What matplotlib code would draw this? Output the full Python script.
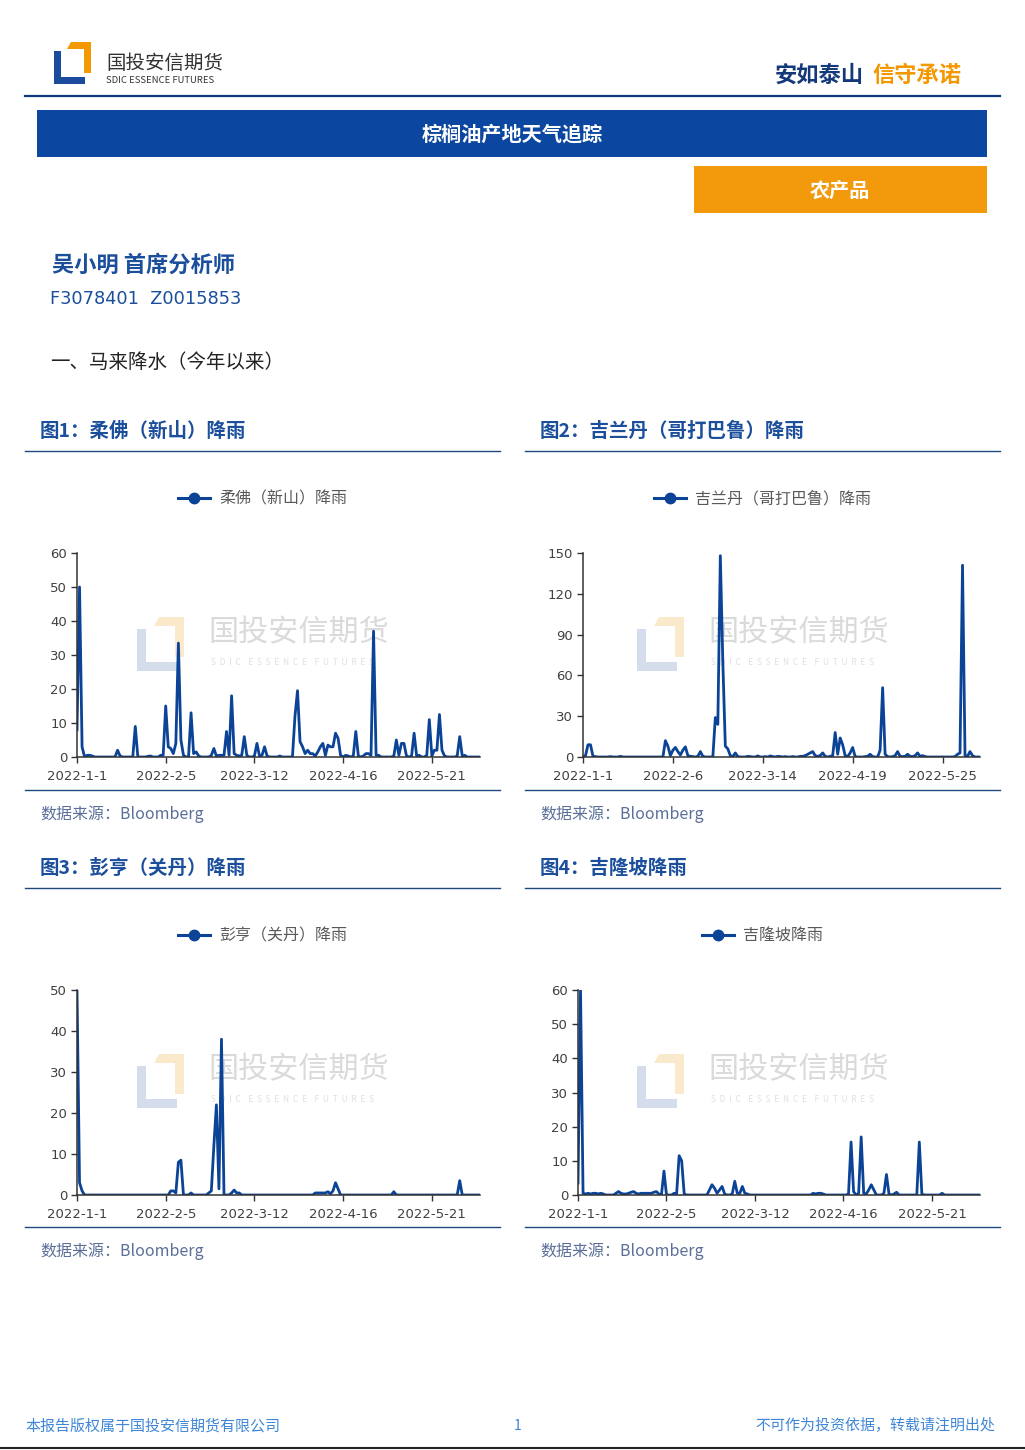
import numpy as np
import pandas as pd
import matplotlib.pyplot as plt
from matplotlib.patches import Polygon, Rectangle
from matplotlib.lines import Line2D

plt.rcParams['font.family'] = ['Noto Sans CJK SC', 'DejaVu Sans']

W, H = 1025, 1450

# ---- data (daily rainfall, mm) ----
start_date = '2022-01-01'
n_days = 160

johor = [8, 50, 3, 0, 0.5, 0.5, 0.3, 0, 0, 0, 0, 0, 0, 0, 0, 0, 2, 0.3, 0, 0,
         0, 0, 0, 9, 0, 0, 0, 0, 0.2, 0.3, 0, 0, 0, 0.5, 0.5, 15, 3, 2.5, 1, 4,
         33.5, 5, 0.5, 0, 0, 13, 1, 1.5, 0.3, 0, 0, 0, 0, 0.5, 2.5, 0.3, 0.5, 0.5, 0.5, 7.5,
         0.5, 18, 1, 0.5, 0.3, 0.5, 6, 0.5, 0, 0, 0.3, 4, 0.3, 0.5, 3, 0.3, 0, 0, 0, 0,
         0.3, 0, 0, 0, 0, 0, 12, 19.5, 4.5, 3, 1, 2, 1, 1, 0.3, 1.5, 3, 4, 0.5, 3.5,
         3, 3, 7, 5.5, 0.5, 0, 0.5, 0.3, 0, 0.3, 7.5, 0.3, 0, 0.3, 1, 1, 0.5, 37, 0.5, 0.5,
         0, 0, 0, 0, 0, 0.3, 5, 0.5, 4, 4, 0.3, 0, 0.3, 7, 0.3, 0.5, 0, 0, 0.5, 11,
         0.3, 2, 2, 12.5, 2, 0.3, 0, 0, 0, 0, 0.3, 6, 0.3, 0.5, 0, 0, 0, 0, 0, 0]

kelantan = [0, 1, 9, 9, 0.5, 0.3, 0, 0, 0, 0, 0, 0.3, 0, 0, 0, 0.5, 0, 0, 0, 0,
            0, 0, 0, 0, 0, 0, 0, 0, 0, 0, 0, 0, 0, 12, 8, 1, 5, 7, 4, 1.5,
            5, 7.5, 1, 0.5, 0.3, 0, 0.5, 4, 0.5, 0, 0, 0, 0, 29, 24, 148, 70, 8, 6, 1,
            0.3, 3, 0.3, 0, 0, 0, 0.5, 0.3, 0, 0, 0.8, 0, 0, 0.3, 0, 0.8, 0.3, 0, 0.5, 0.3,
            0, 0.3, 0, 0, 0.3, 0, 0, 0.5, 0.5, 1, 2, 3, 4, 1, 0.5, 1, 3, 0.5, 0, 0.5,
            1, 18, 2, 14, 9, 1, 0.3, 3, 7, 0.3, 0, 0, 0, 0.3, 0.5, 2, 0.3, 0, 0, 5,
            51, 2, 0.3, 0, 0.3, 1, 4, 0.5, 0.3, 0.5, 2, 0.5, 0.3, 1, 3, 0.5, 1, 0.3, 0, 0,
            0, 0, 0, 0, 0, 0, 0, 0, 0, 0.3, 2, 3, 141, 1, 0.5, 4, 1, 0, 0, 0]

pahang = [50, 3, 1, 0, 0, 0, 0, 0, 0, 0, 0, 0, 0, 0, 0, 0, 0, 0, 0, 0,
          0, 0, 0, 0, 0, 0, 0, 0, 0, 0, 0, 0, 0, 0, 0, 0, 0, 1, 1, 0.5,
          8, 8.5, 0, 0, 0, 0.5, 0, 0, 0, 0, 0, 0, 0.5, 1, 12, 22, 1.5, 38, 0, 0,
          0, 0.5, 1.2, 0.5, 0.5, 0, 0, 0, 0, 0, 0, 0, 0, 0, 0, 0, 0, 0, 0, 0,
          0, 0, 0, 0, 0, 0, 0, 0, 0, 0, 0, 0, 0, 0, 0.5, 0.5, 0.5, 0.5, 0.5, 0.8,
          0.3, 1, 3, 1.5, 0, 0, 0, 0, 0, 0, 0, 0, 0, 0, 0, 0, 0, 0, 0, 0,
          0, 0, 0, 0, 0, 0.8, 0, 0, 0, 0, 0, 0, 0, 0, 0, 0, 0, 0, 0, 0,
          0, 0, 0, 0, 0, 0, 0, 0, 0, 0, 0, 3.5, 0, 0, 0, 0, 0, 0, 0, 0]

kuala_lumpur = [3.5, 60, 0.5, 0.3, 0.5, 0.3, 0.5, 0.5, 0.3, 0.5, 0.3, 0, 0, 0, 0, 0.5, 1, 0.5, 0.3, 0.3,
                0.5, 0.8, 1, 0.5, 0.3, 0.5, 0.5, 0.5, 0.5, 0.5, 0.8, 1, 0.3, 0, 7, 0, 0, 0, 0.5, 0.3,
                11.5, 10, 0.3, 0, 0, 0, 0, 0, 0, 0, 0, 0, 1.5, 3, 2, 0.5, 1.5, 2.5, 0.3, 0,
                0, 0.3, 4, 0.5, 0.5, 2.5, 0.5, 0.3, 0, 0, 0, 0, 0, 0, 0, 0, 0, 0, 0, 0,
                0, 0, 0, 0, 0, 0, 0, 0, 0, 0, 0, 0, 0, 0.5, 0.3, 0.5, 0.5, 0.3, 0, 0,
                0, 0, 0, 0, 0, 0, 0, 0.3, 15.5, 1, 0, 0.5, 17, 0.5, 0.3, 1.5, 3, 1.5, 0, 0,
                0, 0.5, 6, 0.3, 0, 0.3, 0.8, 0, 0, 0, 0, 0, 0, 0, 0, 15.5, 0.3, 0, 0, 0,
                0, 0, 0, 0, 0.5, 0, 0, 0, 0, 0, 0, 0, 0, 0, 0, 0, 0, 0, 0, 0]

ticks_a = ['2022-1-1', '2022-2-5', '2022-3-12', '2022-4-16', '2022-5-21']
ticks_b = ['2022-1-1', '2022-2-6', '2022-3-14', '2022-4-19', '2022-5-25']

yticks_1 = [0, 10, 20, 30, 40, 50, 60]
yticks_2 = [0, 30, 60, 90, 120, 150]
yticks_3 = [0, 10, 20, 30, 40, 50]
yticks_4 = [0, 10, 20, 30, 40, 50, 60]

titles = ['图1：柔佛（新山）降雨', '图2：吉兰丹（哥打巴鲁）降雨',
          '图3：彭亨（关丹）降雨', '图4：吉隆坡降雨']
series_names = ['柔佛（新山）降雨', '吉兰丹（哥打巴鲁）降雨',
                '彭亨（关丹）降雨', '吉隆坡降雨']

LINE = '#0b4397'
ORANGE = '#f39800'
TXTBLUE = '#1b4f9c'

fig = plt.figure(figsize=(W / 100, H / 100), dpi=100)

# page layer in pixel coordinates (behind the charts)
page = fig.add_axes([0, 0, 1, 1], zorder=-1)
page.set_xlim(0, W)
page.set_ylim(H, 0)
page.axis('off')


def logo(x0, y0, s, blue, orange):
    b = [(0, 9), (7, 9), (7, 35), (31, 35), (31, 42), (0, 42)]
    o = [(17, 0), (37, 0), (37, 31), (30, 31), (30, 7), (13, 7)]
    page.add_patch(Polygon([(x0 + s * x, y0 + s * y) for x, y in b], color=blue, lw=0))
    page.add_patch(Polygon([(x0 + s * x, y0 + s * y) for x, y in o], color=orange, lw=0))


# header
logo(54, 42, 1.0, '#1a4b9c', ORANGE)
page.text(106, 63, '国投安信期货', fontsize=14, color='#333333', va='center', ha='left')
page.text(106, 80, 'SDIC ESSENCE FUTURES', fontsize=6.8, color='#333333', va='center', ha='left')
page.text(775, 75, '安如泰山', fontsize=16, fontweight='bold', color='#14397a', va='center', ha='left')
page.text(872, 75, '信守承诺', fontsize=16, fontweight='bold', color=ORANGE, va='center', ha='left')
page.plot([25, 1000], [96, 96], color='#0e3a7c', lw=1.6)

page.add_patch(Rectangle((37, 110), 950, 47, color='#0b47a0', lw=0))
page.text(512, 134, '棕榈油产地天气追踪', fontsize=14.5, fontweight='bold', color='white', ha='center', va='center')
page.add_patch(Rectangle((694, 166), 293, 47, color='#f29a0c', lw=0))
page.text(840, 190, '农产品', fontsize=14.5, fontweight='bold', color='white', ha='center', va='center')

page.text(52, 265, '吴小明 首席分析师', fontsize=16, fontweight='bold', color=TXTBLUE, va='center')
page.text(50, 299, 'F3078401  Z0015853', fontsize=12.8, color=TXTBLUE, va='center', family='DejaVu Sans')
page.text(50, 362, '一、马来降水（今年以来）', fontsize=14, color='#222222', va='center')

# footer
page.text(25, 1426, '本报告版权属于国投安信期货有限公司', fontsize=10.8, color='#3f87d6', va='center')
page.text(518, 1426, '1', fontsize=10, color='#3f87d6', va='center', ha='center')
page.text(995, 1426, '不可作为投资依据，转载请注明出处', fontsize=10.8, color='#3f87d6', va='center', ha='right')
page.plot([0, W], [1448, 1448], color='#222222', lw=1.5)

dates = np.datetime64(start_date) + np.arange(n_days)

charts = [
    (johor, yticks_1, ticks_a, (25, 410), (77, 553, 480, 757)),
    (kelantan, yticks_2, ticks_b, (525, 410), (583, 553, 980, 757)),
    (pahang, yticks_3, ticks_a, (25, 847), (77, 990, 480, 1195)),
    (kuala_lumpur, yticks_4, ticks_a, (525, 847), (578, 990, 980, 1195)),
]

wm_sub = '  '.join('SDIC') + '    ' + '  '.join('ESSENCE') + '    ' + '  '.join('FUTURES')

for i, (vals, yt, xt, (ox, oy), (l, t, r, b)) in enumerate(charts):
    # block frame: title, rules, source
    page.text(ox + 15, oy + 21, titles[i], fontsize=14, fontweight='bold', color=TXTBLUE, va='center')
    page.plot([ox, ox + 475], [oy + 41, oy + 41], color='#1e4a7e', lw=1.0)
    page.plot([ox, ox + 475], [oy + 380, oy + 380], color='#1e4a7e', lw=1.0)
    page.text(ox + 15, oy + 404, '数据来源：Bloomberg', fontsize=11.5, color='#5b6f99', va='center')

    # watermark
    logo(ox + 112, oy + 207, 1.28, '#d5ddec', '#fbe9cc')
    page.text(ox + 183, oy + 223, '国投安信期货', fontsize=21.7, color='#dadada', va='center')
    page.text(ox + 186, oy + 252, wm_sub, fontsize=6.0, color='#e0e0e0', va='center')

    ax = fig.add_axes([l / W, 1 - b / H, (r - l) / W, (b - t) / H])
    ax.set_facecolor('none')
    ax.plot(dates, vals, color=LINE, lw=2.0, solid_joinstyle='round')
    ax.set_xlim(dates[0], dates[-1])
    ax.set_ylim(yt[0], yt[-1])
    ax.set_yticks(yt)
    ax.set_xticks(pd.to_datetime(xt))
    ax.set_xticklabels(xt)
    for s in ['top', 'right']:
        ax.spines[s].set_visible(False)
    for s in ['left', 'bottom']:
        ax.spines[s].set_color('#333333')
        ax.spines[s].set_linewidth(1.1)
    ax.tick_params(axis='both', colors='#333333', labelcolor='#404040', labelsize=9.5,
                   length=4, width=1, pad=3)
    ax.tick_params(axis='x', pad=5)
    for lab in ax.get_xticklabels() + ax.get_yticklabels():
        lab.set_family('DejaVu Sans')

    handle = Line2D([], [], color=LINE, lw=2.2, marker='o', markersize=7.5)
    ax.legend([handle], [series_names[i]], loc='center', frameon=False,
              bbox_to_anchor=((ox + 237.5) / W, 1 - (oy + 89) / H),
              bbox_transform=fig.transFigure, fontsize=11.5, labelcolor='#595959',
              handlelength=2.0, handletextpad=0.6)

fig.savefig('out.png', dpi=100)
